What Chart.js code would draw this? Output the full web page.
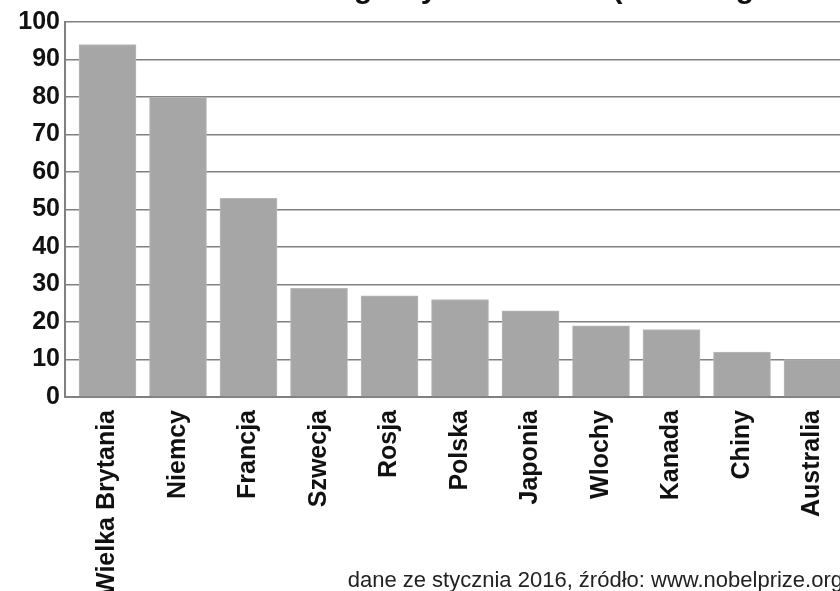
<!DOCTYPE html>
<html lang="pl">
<head>
<meta charset="utf-8">
<title>Laureaci Nagrody Nobla</title>
<script src="https://cdn.jsdelivr.net/npm/chart.js@4.4.1/dist/chart.umd.min.js"></script>
<style>
  html, body { margin: 0; padding: 0; background: #fff; overflow: hidden; }
  #chart-box { width: 840px; height: 591px; }
</style>
</head>
<body>
<div id="chart-box"><canvas id="nobelChart" width="840" height="591"></canvas></div>
<script>
// data
const countries = ["Wielka Brytania", "Niemcy", "Francja", "Szwecja", "Rosja", "Polska",
                   "Japonia", "Wlochy", "Kanada", "Chiny", "Australia"];
const laureates = [94, 80, 53, 29, 27, 26, 23, 19, 18, 12, 10];
const yMax = 100;
const yStep = 10;
const titleText = "Laureaci Nagrody Nobla 2016 (razem ogółem w krajach)";
const sourceText = "dane ze stycznia 2016, źródło: www.nobelprize.org";

const FONT = "'Liberation Sans', Arial, sans-serif";
const GRID = "#808080";

class NobelChart {
  constructor() {
    this.ctx = document.getElementById("nobelChart").getContext("2d");
    this.render();
  }

  captionsPlugin() {
    return {
      id: "captions",
      afterDraw(chart) {
        const c = chart.ctx;
        c.save();
        c.fillStyle = "#111";
        // title is cut off by the top edge, only descenders show
        c.font = "bold 30px " + FONT;
        c.textAlign = "left";
        c.textBaseline = "alphabetic";
        c.fillText(titleText, 184, -2);
        c.font = "22px " + FONT;
        c.textAlign = "right";
        c.fillStyle = "#222";
        c.fillText(sourceText, 843, 587);
        c.restore();
      }
    };
  }

  render() {
    const points = countries.map((name, i) => ({ x: i, y: laureates[i] }));

    new Chart(this.ctx, {
      type: "bar",
      data: {
        datasets: [{
          data: points,
          backgroundColor: "#a6a6a6",
          borderColor: "#b8b8b8",
          borderWidth: 1,
          barThickness: 57,
        }],
      },
      options: {
        responsive: false,
        animation: false,
        layout: { padding: { top: 22, left: 0, right: 0, bottom: 0 } },
        plugins: {
          legend: { display: false },
          tooltip: { enabled: false },
        },
        scales: {
          x: {
            type: "linear",
            offset: false,
            min: -0.603,
            max: 10.39,
            afterBuildTicks: (scale) => {
              scale.ticks = countries.map((name, i) => ({ value: i }));
            },
            afterFit: (scale) => {
              scale.height = 194;
              scale.paddingLeft = 0;
              scale.paddingRight = 0;
            },
            grid: { display: false, offset: false },
            border: { color: GRID, width: 2 },
            ticks: {
              autoSkip: false,
              minRotation: 90,
              maxRotation: 90,
              padding: 5,
              color: "#111",
              font: { family: FONT, size: 25, weight: "bold" },
              callback: (value) => countries[value],
            },
          },
          y: {
            min: 0,
            max: yMax,
            afterFit: (scale) => { scale.width = 65; },
            grid: { color: GRID, lineWidth: 1.5, drawTicks: false },
            border: { color: GRID, width: 2 },
            ticks: {
              stepSize: yStep,
              padding: 5,
              color: "#111",
              font: { family: FONT, size: 25, weight: "bold" },
            },
          },
        },
      },
      plugins: [this.captionsPlugin()],
    });
  }
}

new NobelChart();
</script>
</body>
</html>
